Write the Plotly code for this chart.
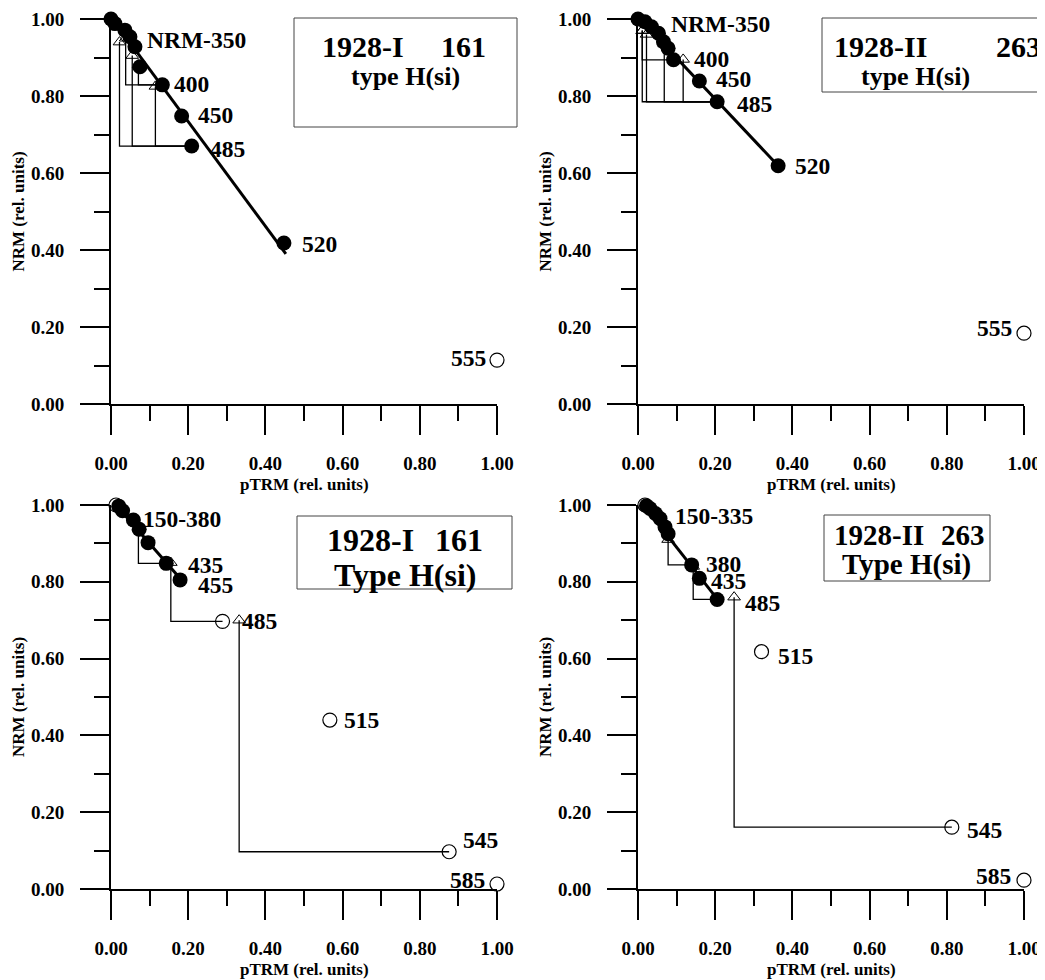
import plotly.graph_objects as go

# page offset (browser body margin) and figure size so the page is 1045x980
OFF = 8
W, H = 1045 - OFF, 980 - OFF

# ---------------- DATA ----------------
# Panel A: 1928-I 161, type H(si)  (top left)
a_x = [0.0, 0.010, 0.036, 0.049, 0.062, 0.075, 0.133, 0.183, 0.209, 0.448, 1.0]
a_y = [1.0, 0.988, 0.971, 0.954, 0.928, 0.876, 0.829, 0.748, 0.670, 0.418, 0.114]
a_filled = [1, 1, 1, 1, 1, 1, 1, 1, 1, 1, 0]
a_fit_x = [0.0, 0.453]
a_fit_y = [1.005, 0.390]
a_chk_x = [0.038, 0.071, 0.022, 0.055, 0.115]
a_chk_y = [0.950, 0.880, 0.940, 0.905, 0.825]
a_chk_from = [6, 6, 8, 8, 8]
a_labels = ["NRM-350", "400", "450", "485", "520", "555"]
a_label_step = [5, 6, 7, 8, 9, 10]

# Panel B: 1928-II 263, type H(si)  (top right)
b_x = [0.0, 0.018, 0.035, 0.053, 0.066, 0.078, 0.092, 0.159, 0.205, 0.363, 1.0]
b_y = [1.0, 0.993, 0.980, 0.963, 0.941, 0.924, 0.894, 0.839, 0.785, 0.619, 0.184]
b_filled = [1, 1, 1, 1, 1, 1, 1, 1, 1, 1, 0]
b_fit_x = [0.0, 0.363]
b_fit_y = [1.005, 0.619]
b_chk_x = [0.011, 0.011, 0.022, 0.068, 0.117]
b_chk_y = [0.970, 0.970, 0.960, 0.935, 0.895]
b_chk_from = [6, 8, 8, 8, 8]
b_labels = ["NRM-350", "400", "450", "485", "520", "555"]
b_label_step = [4, 6, 7, 8, 9, 10]

# Panel C: 1928-I 161, Type H(si)  (bottom left)
c_x = [0.013, 0.020, 0.030, 0.058, 0.073, 0.096, 0.143, 0.179, 0.289, 0.567, 0.876, 1.0]
c_y = [1.000, 0.997, 0.985, 0.961, 0.937, 0.902, 0.848, 0.805, 0.697, 0.440, 0.097, 0.013]
c_filled = [0, 1, 1, 1, 1, 1, 1, 1, 0, 0, 0, 0]
c_fit_x = [0.013, 0.178]
c_fit_y = [1.000, 0.810]
c_chk_x = [0.071, 0.155, 0.332]
c_chk_y = [0.940, 0.850, 0.700]
c_chk_from = [6, 8, 10]
c_labels = ["150-380", "435", "455", "485", "515", "545", "585"]
c_label_step = [3, 6, 7, 8, 9, 10, 11]

# Panel D: 1928-II 263, Type H(si)  (bottom right)
d_x = [0.018, 0.022, 0.031, 0.045, 0.057, 0.070, 0.078, 0.139, 0.159, 0.205, 0.320, 0.813, 1.0]
d_y = [1.000, 0.998, 0.991, 0.978, 0.965, 0.943, 0.925, 0.844, 0.809, 0.754, 0.618, 0.161, 0.023]
d_filled = [0, 1, 1, 1, 1, 1, 1, 1, 1, 1, 0, 0, 0]
d_fit_x = [0.014, 0.204]
d_fit_y = [1.000, 0.757]
d_chk_x = [0.078, 0.143, 0.249]
d_chk_y = [0.910, 0.840, 0.760]
d_chk_from = [7, 9, 11]
d_labels = ["150-335", "380", "435", "485", "515", "545", "585"]
d_label_step = [3, 7, 8, 9, 10, 11, 12]

x_tick_vals = [0.0, 0.2, 0.4, 0.6, 0.8, 1.0]
x_tick_text = ["0.00", "0.20", "0.40", "0.60", "0.80", "1.00"]
y_tick_vals = [0.0, 0.2, 0.4, 0.6, 0.8, 1.0]
y_tick_text = ["0.00", "0.20", "0.40", "0.60", "0.80", "1.00"]
x_title = "pTRM (rel. units)"
y_title = "NRM (rel. units)"

box_site = ["1928-I", "1928-II", "1928-I", "1928-II"]
box_num = ["161", "263", "161", "263"]
box_type = ["type H(si)", "type H(si)", "Type H(si)", "Type H(si)"]

# ---------------- STYLE / LAYOUT ----------------
FONT = "Liberation Serif, Times New Roman, serif"

def px2x(p):
    return (p - OFF) / W

def px2y(p):
    return 1 - (p - OFF) / H

# panel pixel frames (reference page pixels): (x0, x1, ytop, ybottom)
frames = [
    (111, 497, 19, 404),
    (638, 1024, 19, 404),
    (111, 497, 505, 889),
    (638, 1024, 505, 889),
]

# label offsets (xanchor, xshift, yshift) per panel
a_off = [("left", 5, 27), ("left", 10, 1), ("left", 14, 1), ("left", 16, -3), ("left", 16, -1), ("right", -9, 2)]
b_off = [("left", 6, 18), ("left", 18, 1), ("left", 15, 2), ("left", 18, -2), ("left", 15, 0), ("right", -10, 5)]
c_off = [("left", 8, 1), ("left", 20, -2), ("left", 16, -5), ("left", 17, 0), ("left", 12, 0), ("left", 12, 12), ("right", -10, 4)]
d_off = [("left", 18, -3), ("left", 12, 1), ("left", 10, -3), ("left", 26, -4), ("left", 14, -4), ("left", 13, -3), ("right", -11, 4)]

# boxes: rect (x0, x1, y0, y1); line1 (left_x, right_x, y); line2 (cx, cy); font sizes (line1, line2)
boxes = [
    ((294, 517, 18, 127), (320, 488, 47), (405, 76), (30, 26)),
    ((822, 1070, 18, 92), (832, 1043, 47), (915, 76), (30, 26)),
    ((297, 512, 516, 589), (325, 485, 540), (405, 575), (32, 32)),
    ((824, 990, 515, 581), (832, 987, 535), (906, 564), (29, 29)),
]

panels = [
    (a_x, a_y, a_filled, a_fit_x, a_fit_y, a_chk_x, a_chk_y, a_chk_from, a_labels, a_label_step, a_off),
    (b_x, b_y, b_filled, b_fit_x, b_fit_y, b_chk_x, b_chk_y, b_chk_from, b_labels, b_label_step, b_off),
    (c_x, c_y, c_filled, c_fit_x, c_fit_y, c_chk_x, c_chk_y, c_chk_from, c_labels, c_label_step, c_off),
    (d_x, d_y, d_filled, d_fit_x, d_fit_y, d_chk_x, d_chk_y, d_chk_from, d_labels, d_label_step, d_off),
]

fig = go.Figure()
annotations = []
shapes = []
layout_axes = {}

for i, (px_, py_, filled, fx, fy, cx, cy, cfrom, labs, lstep, offs) in enumerate(panels):
    n = i + 1
    xa = "x" if n == 1 else f"x{n}"
    ya = "y" if n == 1 else f"y{n}"
    xkey = "xaxis" if n == 1 else f"xaxis{n}"
    ykey = "yaxis" if n == 1 else f"yaxis{n}"
    x0, x1, yt, yb = frames[i]

    common = dict(
        showline=True, linewidth=2, linecolor="black", mirror=False,
        ticks="outside", ticklen=29, tickwidth=2, tickcolor="black",
        showgrid=False, zeroline=False, range=[0, 1], fixedrange=True, automargin=False,
        tickfont=dict(family=FONT, size=19, color="black", weight="bold"),
        minor=dict(dtick=0.1, ticks="outside", ticklen=15, tickwidth=2, tickcolor="black", showgrid=False),
    )
    layout_axes[xkey] = dict(common, domain=[px2x(x0), px2x(x1)], anchor=ya,
                             tickvals=x_tick_vals, ticktext=x_tick_text, ticklabelstandoff=12)
    layout_axes[ykey] = dict(common, domain=[px2y(yb), px2y(yt)], anchor=xa,
                             tickvals=y_tick_vals, ticktext=y_tick_text, ticklabelstandoff=12)

    # pTRM check lines
    lx, ly = [], []
    for xc, yc, k in zip(cx, cy, cfrom):
        lx += [px_[k], xc, xc, None]
        ly += [py_[k], py_[k], yc, None]
    fig.add_trace(go.Scatter(x=lx, y=ly, mode="lines", xaxis=xa, yaxis=ya,
                             line=dict(color="black", width=1.3), hoverinfo="skip", cliponaxis=False))
    # fit line
    fig.add_trace(go.Scatter(x=fx, y=fy, mode="lines", xaxis=xa, yaxis=ya,
                             line=dict(color="black", width=3), hoverinfo="skip", cliponaxis=False))
    # checks (triangles)
    fig.add_trace(go.Scatter(x=cx, y=cy, mode="markers", xaxis=xa, yaxis=ya,
                             marker=dict(symbol="triangle-up-open", size=11, color="black", line=dict(width=1)),
                             cliponaxis=False))
    # filled steps
    fxs = [x for x, f in zip(px_, filled) if f]
    fys = [y for y, f in zip(py_, filled) if f]
    fig.add_trace(go.Scatter(x=fxs, y=fys, mode="markers", xaxis=xa, yaxis=ya,
                             marker=dict(symbol="circle", size=15, color="black"), cliponaxis=False))
    # open steps
    oxs = [x for x, f in zip(px_, filled) if not f]
    oys = [y for y, f in zip(py_, filled) if not f]
    fig.add_trace(go.Scatter(x=oxs, y=oys, mode="markers", xaxis=xa, yaxis=ya,
                             marker=dict(symbol="circle-open", size=14, color="black", line=dict(width=1.2)),
                             cliponaxis=False))

    # step labels
    for t, k, (anc, xs, ys) in zip(labs, lstep, offs):
        annotations.append(dict(x=px_[k], y=py_[k], xref=xa, yref=ya, text=t, showarrow=False,
                                xanchor=anc, yanchor="middle", xshift=xs, yshift=ys,
                                font=dict(family=FONT, size=23.5, color="black", weight="bold")))

    # axis titles
    annotations.append(dict(x=px2x((x0 + x1) / 2), y=px2y(yb + 80), xref="paper", yref="paper",
                            text=x_title, showarrow=False, xanchor="center", yanchor="middle",
                            font=dict(family=FONT, size=17, color="black", weight="bold")))
    annotations.append(dict(x=px2x(x0 - 93), y=px2y((yt + yb) / 2), xref="paper", yref="paper",
                            text=y_title, showarrow=False, xanchor="center", yanchor="middle", textangle=-90,
                            font=dict(family=FONT, size=17, color="black", weight="bold")))

    # info box
    (bx0, bx1, by0, by1), (l1l, l1r, l1y), (c2x, c2y), (fs1, fs2) = boxes[i]
    bfont1 = dict(family=FONT, size=fs1, color="black", weight="bold")
    bfont2 = dict(family=FONT, size=fs2, color="black", weight="bold")
    shapes.append(dict(type="rect", xref="paper", yref="paper", x0=px2x(bx0), x1=px2x(bx1),
                       y0=px2y(by1), y1=px2y(by0), line=dict(color="#444444", width=1), fillcolor="white",
                       layer="above"))
    annotations.append(dict(x=px2x(l1l), y=px2y(l1y), xref="paper", yref="paper", text=box_site[i],
                            showarrow=False, xanchor="left", yanchor="middle", font=bfont1))
    annotations.append(dict(x=px2x(l1r), y=px2y(l1y), xref="paper", yref="paper", text=box_num[i],
                            showarrow=False, xanchor="right", yanchor="middle", font=bfont1))
    annotations.append(dict(x=px2x(c2x), y=px2y(c2y), xref="paper", yref="paper", text=box_type[i],
                            showarrow=False, xanchor="center", yanchor="middle", font=bfont2))

fig.update_layout(
    width=W, height=H, margin=dict(l=0, r=0, t=0, b=0, autoexpand=False),
    paper_bgcolor="white", plot_bgcolor="white", showlegend=False,
    annotations=annotations, shapes=shapes, **layout_axes,
)

fig.write_html("out.html")
